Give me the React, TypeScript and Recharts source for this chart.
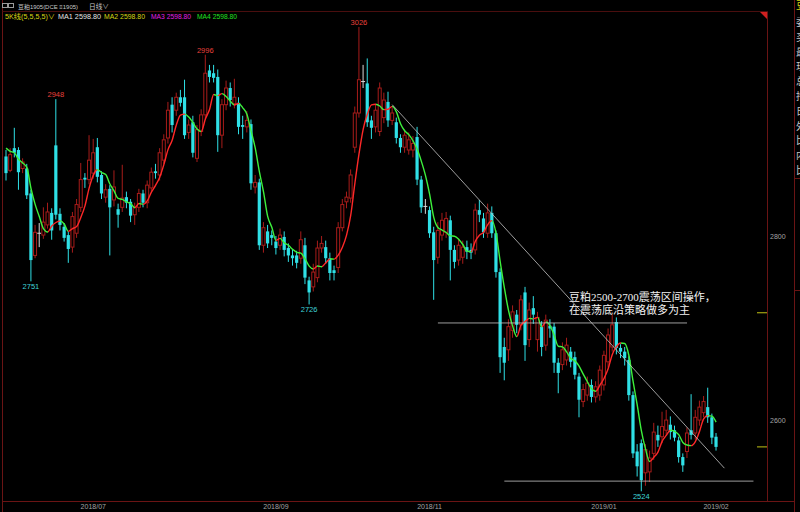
import { Bar, ComposedChart, Line, XAxis, YAxis } from "recharts"

// 豆粕1905 daily bars, DCE
const OPEN = [
  2886, 2871, 2895, 2893, 2873, 2873, 2846, 2779, 2803, 2801,
  2812, 2825, 2898, 2824, 2810, 2801, 2788, 2803, 2831, 2863,
  2861, 2868, 2896, 2866, 2842, 2851, 2839, 2829, 2831, 2842,
  2837, 2823, 2831, 2846, 2836, 2852, 2870, 2866, 2882, 2906,
  2942, 2936, 2950, 2950, 2912, 2923, 2884, 2913, 2931, 2979,
  2976, 2972, 2909, 2942, 2960, 2943, 2944, 2920, 2918, 2921,
  2853, 2858, 2790, 2805, 2801, 2794, 2790, 2799, 2787, 2779,
  2779, 2776, 2790, 2752, 2745, 2755, 2787, 2788, 2776, 2763,
  2766, 2809, 2837, 2841, 2896, 2933, 2967, 2965, 2925, 2918,
  2913, 2928, 2945, 2925, 2923, 2906, 2896, 2893, 2893, 2907,
  2861, 2832, 2828, 2804, 2777, 2801, 2804, 2817, 2785, 2774,
  2777, 2788, 2785, 2785, 2828, 2819, 2803, 2825, 2803, 2761,
  2680, 2677, 2698, 2715, 2704, 2739, 2688, 2722, 2688, 2702,
  2682, 2703, 2702, 2663, 2661, 2666, 2675, 2669, 2648, 2621,
  2628, 2639, 2626, 2628, 2639, 2664, 2680, 2707, 2679, 2675,
  2666, 2628, 2567, 2576, 2544, 2545, 2565, 2585, 2583, 2590,
  2596, 2590, 2579, 2561, 2567, 2590, 2587, 2601, 2609, 2615,
  2604, 2583,
]
const HIGH = [
  2893, 2895, 2917, 2896, 2884, 2878, 2850, 2812, 2814, 2831,
  2836, 2830, 2948, 2830, 2814, 2805, 2826, 2840, 2879, 2868,
  2909, 2905, 2906, 2870, 2856, 2855, 2871, 2835, 2877, 2848,
  2840, 2836, 2851, 2850, 2860, 2874, 2878, 2895, 2910, 2945,
  2950, 2955, 2958, 2969, 2926, 2930, 2920, 2937, 2996, 2985,
  2985, 2980, 2948, 2968, 2966, 2970, 2950, 2930, 2935, 2926,
  2866, 2862, 2815, 2812, 2806, 2800, 2808, 2805, 2792, 2786,
  2784, 2805, 2798, 2756, 2770, 2795, 2800, 2795, 2782, 2768,
  2815, 2840, 2848, 2872, 2940, 3026, 2985, 2992, 2930, 2942,
  2966, 2955, 2956, 2940, 2928, 2910, 2915, 2912, 2908, 2918,
  2865, 2840, 2832, 2810, 2815, 2825, 2826, 2822, 2790, 2797,
  2795, 2795, 2792, 2835, 2839, 2825, 2835, 2832, 2806, 2765,
  2690, 2710, 2725, 2720, 2736, 2745, 2728, 2735, 2718, 2708,
  2715, 2710, 2706, 2668, 2685, 2690, 2680, 2675, 2652, 2640,
  2648, 2645, 2643, 2660, 2676, 2700, 2715, 2712, 2683, 2680,
  2670, 2632, 2575, 2580, 2575, 2568, 2598, 2595, 2610, 2612,
  2605, 2595, 2583, 2565, 2593, 2629, 2612, 2622, 2627, 2636,
  2608, 2587,
]
const LOW = [
  2860, 2869, 2885, 2850, 2868, 2840, 2751, 2776, 2788, 2797,
  2808, 2796, 2818, 2806, 2794, 2771, 2782, 2798, 2826, 2852,
  2856, 2862, 2858, 2840, 2836, 2779, 2832, 2809, 2826, 2830,
  2815, 2812, 2826, 2831, 2830, 2848, 2862, 2860, 2878, 2900,
  2912, 2930, 2940, 2905, 2905, 2885, 2880, 2908, 2926, 2966,
  2966, 2891, 2895, 2936, 2940, 2938, 2910, 2905, 2912, 2850,
  2846, 2785, 2782, 2787, 2790, 2780, 2785, 2778, 2772, 2768,
  2765, 2770, 2748, 2726, 2740, 2750, 2782, 2770, 2752, 2752,
  2760, 2805, 2830, 2836, 2890, 2928, 2960, 2918, 2905, 2912,
  2908, 2922, 2918, 2920, 2900, 2890, 2890, 2888, 2885, 2855,
  2825, 2824, 2798, 2731, 2770, 2795, 2798, 2752, 2765, 2768,
  2770, 2775, 2775, 2780, 2815, 2798, 2798, 2798, 2755, 2652,
  2644, 2665, 2690, 2695, 2698, 2665, 2680, 2705, 2675, 2670,
  2676, 2690, 2652, 2630, 2655, 2660, 2658, 2645, 2604, 2615,
  2622, 2620, 2620, 2622, 2633, 2658, 2675, 2672, 2668, 2660,
  2622, 2560, 2540, 2524, 2530, 2534, 2558, 2572, 2576, 2585,
  2580, 2578, 2555, 2545, 2560, 2580, 2580, 2595, 2604, 2598,
  2575, 2568,
]
const CLOSE = [
  2868, 2888, 2890, 2869, 2880, 2844, 2774, 2804, 2803, 2815,
  2826, 2806, 2823, 2812, 2798, 2786, 2821, 2834, 2861, 2861,
  2882, 2890, 2864, 2846, 2850, 2831, 2853, 2823, 2841, 2836,
  2822, 2831, 2846, 2836, 2855, 2869, 2868, 2890, 2904, 2936,
  2920, 2950, 2944, 2909, 2920, 2890, 2915, 2931, 2976, 2972,
  2971, 2909, 2942, 2960, 2947, 2950, 2918, 2918, 2925, 2857,
  2858, 2790, 2809, 2792, 2798, 2787, 2801, 2785, 2779, 2776,
  2771, 2796, 2755, 2739, 2761, 2787, 2792, 2776, 2760, 2760,
  2809, 2834, 2842, 2866, 2933, 2969, 2967, 2923, 2917, 2936,
  2960, 2947, 2925, 2933, 2906, 2896, 2909, 2904, 2900, 2861,
  2831, 2832, 2803, 2774, 2806, 2817, 2819, 2785, 2772, 2790,
  2788, 2783, 2782, 2828, 2823, 2804, 2825, 2803, 2761, 2669,
  2663, 2702, 2718, 2704, 2731, 2682, 2720, 2715, 2712, 2680,
  2709, 2700, 2663, 2652, 2677, 2682, 2664, 2650, 2623, 2634,
  2641, 2626, 2637, 2655, 2671, 2693, 2704, 2679, 2675, 2668,
  2628, 2565, 2551, 2536, 2569, 2560, 2588, 2579, 2594, 2601,
  2588, 2582, 2561, 2552, 2587, 2585, 2604, 2615, 2621, 2604,
  2582, 2572,
]
// closes before the first visible bar, only used to seed the average
const SEED_CLOSE = [2905, 2898, 2904, 2900]

const MA_PERIOD = 5
const EMPTY_SLOTS = 12

const MONTH_TICKS = [21, 65, 102, 144, 171]
const MONTH_LABELS = ["2018/07", "2018/09", "2018/11", "2019/01", "2019/02"]

const PRICE_TICKS = [2600, 2800]
const PRICE_DOMAIN: [number, number] = [2513.5, 3042.2]
const PREV_SETTLE = 2717

const PEAK_BARS = [12, 48, 85]
const TROUGH_BARS = [6, 73, 153]

// hand-drawn lines: [bar index, price]
const TREND_LINE = [[93, 2942], [173, 2549]]
const RANGE_TOP = [[104, 2706], [164, 2706]]
const RANGE_BOTTOM = [[120, 2535], [180, 2535]]

const NOTE = ["豆粕2500-2700震荡区间操作，", "在震荡底沿策略做多为主"]
const SIDE_GLYPHS = ["委", "买", "最", "现", "总", "持", "日", "外", "比", "内", "比"]

const UP = "#a81c1a"
const DOWN = "#2fe0e6"
const FLAT = "#d8d8d8"
const MA_UP = "#ff2828"
const MA_DOWN = "#3cf03c"
const FRAME = "#6a1414"
const GUIDE = "#c4c4c4"
const AXIS_TEXT = "#a4a4a4"
const FONT = "'Liberation Sans', 'Noto Sans CJK SC', sans-serif"

const seeded = [...SEED_CLOSE, ...CLOSE]
const ma = CLOSE.map((_, i) => {
  const end = i + SEED_CLOSE.length + 1
  const win = seeded.slice(end - MA_PERIOD, end)
  return win.reduce((s, v) => s + v, 0) / win.length
})
const maLast = ma[ma.length - 1].toFixed(2)

const trendAt = new Map(TREND_LINE.map(([i, v]) => [i, v]))
const topAt = new Map(RANGE_TOP.map(([i, v]) => [i, v]))
const bottomAt = new Map(RANGE_BOTTOM.map(([i, v]) => [i, v]))

const rows = Array.from({ length: CLOSE.length + EMPTY_SLOTS }, (_, i) => ({
  i,
  open: OPEN[i],
  high: HIGH[i],
  low: LOW[i],
  close: CLOSE[i],
  ma: ma[i],
  peak: PEAK_BARS.includes(i),
  trough: TROUGH_BARS.includes(i),
  trend: trendAt.get(i),
  rangeTop: topAt.get(i),
  rangeBottom: bottomAt.get(i),
}))

// red while the average rises, green while it falls
const maStops: { off: number; color: string }[] = []
for (let k = 0; k < ma.length - 1; k++) {
  const color = ma[k + 1] >= ma[k] ? MA_UP : MA_DOWN
  const n = ma.length - 1
  maStops.push({ off: k / n, color }, { off: (k + 1) / n, color })
}

function Candle(props: any) {
  const { x, y, width, height, payload } = props
  if (!payload || payload.close == null) return null
  const { open, close, high, low } = payload
  const k = high > low ? height / (high - low) : 0
  const cx = x + width / 2
  const py = (v: number) => y + (high - v) * k
  const top = py(Math.max(open, close))
  const bottom = py(Math.min(open, close))
  const bodyH = Math.max(bottom - top, 1)
  let mark = null
  if (payload.peak) {
    mark = (
      <text x={cx} y={y - 2} textAnchor="middle" fontSize={7.5} fill="#e8413c" fontFamily={FONT}>
        {high}
      </text>
    )
  } else if (payload.trough) {
    mark = (
      <text x={cx} y={y + height + 8} textAnchor="middle" fontSize={7.5} fill="#3fd4d8" fontFamily={FONT}>
        {low}
      </text>
    )
  }
  if (close === open) {
    return (
      <g>
        <line x1={cx} x2={cx} y1={y} y2={y + height} stroke={FLAT} strokeWidth={1} />
        <line x1={cx - 2} x2={cx + 2} y1={top} y2={top} stroke={FLAT} strokeWidth={1} />
        {mark}
      </g>
    )
  }
  if (close > open) {
    return (
      <g>
        <line x1={cx} x2={cx} y1={y} y2={top} stroke={UP} strokeWidth={1} />
        <line x1={cx} x2={cx} y1={top + bodyH} y2={y + height} stroke={UP} strokeWidth={1} />
        <rect x={cx - 1.5} y={top} width={3} height={bodyH} fill="#000" stroke={UP} strokeWidth={1} />
        {mark}
      </g>
    )
  }
  return (
    <g>
      <line x1={cx} x2={cx} y1={y} y2={y + height} stroke={DOWN} strokeWidth={1} />
      <rect x={cx - 1.6} y={top} width={3.2} height={bodyH} fill={DOWN} />
      {mark}
    </g>
  )
}

function MonthTick({ x, y, payload }: any) {
  const k = MONTH_TICKS.indexOf(payload.value)
  if (k < 0) return null
  return (
    <text x={x} y={y + 8} textAnchor="middle" fontSize={7} fill={AXIS_TEXT} fontFamily={FONT}>
      {MONTH_LABELS[k]}
    </text>
  )
}

function PriceTick({ x, y, payload }: any) {
  if (PRICE_TICKS.includes(payload.value)) {
    return (
      <text x={x + 2} y={y + 2.5} fontSize={7} fill={AXIS_TEXT} fontFamily={FONT}>
        {payload.value}
      </text>
    )
  }
  return <line x1={x - 11} x2={x} y1={y} y2={y} stroke="#c2c214" strokeWidth={1} />
}

function Overlay() {
  return (
    <svg width={800} height={512} style={{ position: "absolute", left: 0, top: 0, pointerEvents: "none" }}>
      {/* frame */}
      <line x1={2.5} x2={2.5} y1={0} y2={512} stroke={FRAME} />
      <line x1={2.5} x2={767.5} y1={11.5} y2={11.5} stroke="#4a0e0e" />
      <line x1={767.5} x2={767.5} y1={11.5} y2={501.5} stroke={FRAME} />
      <line x1={2.5} x2={794.5} y1={501.5} y2={501.5} stroke={FRAME} />
      <line x1={794.5} x2={794.5} y1={0} y2={512} stroke={FRAME} />
      <polygon points="760,12 767,12 767,19" fill="#d02020" />
      <line x1={794.5} x2={800} y1={178.5} y2={178.5} stroke={FRAME} />
      <line x1={794.5} x2={800} y1={290.5} y2={290.5} stroke={FRAME} />

      {/* title rows */}
      <rect x={2.5} y={3.5} width={5} height={4} fill="none" stroke="#9a9a9a" />
      <rect x={8.5} y={3.5} width={5} height={4} fill="none" stroke="#9a9a9a" />
      <text x={18} y={9} fontSize={6} fill="#c8c8c8" fontFamily={FONT} textLength={60} lengthAdjust="spacingAndGlyphs">
        豆粕1905(DCE ≡1905)
      </text>
      <text x={89} y={9} fontSize={6.5} fill="#c8c8c8" fontFamily={FONT} textLength={20} lengthAdjust="spacingAndGlyphs">
        日线∨
      </text>
      <text x={5} y={19} fontSize={7} fill="#d6d614" fontFamily={FONT} textLength={50} lengthAdjust="spacingAndGlyphs">
        5K线(5,5,5,5)∨
      </text>
      <text x={58} y={19} fontSize={7} fill="#e4e4e4" fontFamily={FONT} textLength={43} lengthAdjust="spacingAndGlyphs">
        MA1 {maLast}
      </text>
      <text x={104} y={19} fontSize={6.8} fill="#d6d614" fontFamily={FONT} textLength={41} lengthAdjust="spacingAndGlyphs">
        MA2 {maLast}
      </text>
      <text x={151} y={19} fontSize={6.8} fill="#e020e0" fontFamily={FONT} textLength={40} lengthAdjust="spacingAndGlyphs">
        MA3 {maLast}
      </text>
      <text x={197} y={19} fontSize={6.8} fill="#20e020" fontFamily={FONT} textLength={40} lengthAdjust="spacingAndGlyphs">
        MA4 {maLast}
      </text>

      {/* note */}
      {NOTE.map((t, k) => (
        <text
          key={t}
          x={569}
          y={301 + k * 13}
          fontSize={11}
          fill="#f2f2f2"
          fontFamily="'Liberation Serif', 'Noto Sans CJK SC', serif"
        >
          {t}
        </text>
      ))}

      {/* quote panel edge */}
      <text x={796} y={9} fontSize={10} fill="#d6d614" fontFamily={FONT}>
        豆
      </text>
      {SIDE_GLYPHS.map((g, k) => (
        <text key={k} x={796} y={26 + k * 14.8} fontSize={10} fill="#c8c8c8" fontFamily={FONT}>
          {g}
        </text>
      ))}
    </svg>
  )
}

export default function App() {
  const lastClose = CLOSE[CLOSE.length - 1]
  return (
    <div style={{ position: "fixed", left: 0, top: 0, width: 800, height: 512, background: "#000" }}>
      <ComposedChart
        width={800}
        height={512}
        data={rows}
        margin={{ top: 12, right: 0, bottom: 0, left: 4 }}
        barCategoryGap={0}
        barGap={0}
      >
        <defs>
          <linearGradient id="maStroke" x1="0" y1="0" x2="1" y2="0">
            {maStops.map((s, k) => (
              <stop key={k} offset={s.off} stopColor={s.color} />
            ))}
          </linearGradient>
        </defs>
        <XAxis
          dataKey="i"
          type="category"
          height={11}
          ticks={MONTH_TICKS}
          interval={0}
          tickSize={0}
          tickMargin={0}
          axisLine={false}
          tickLine={false}
          tick={<MonthTick />}
        />
        <YAxis
          orientation="right"
          width={32}
          type="number"
          domain={PRICE_DOMAIN}
          allowDataOverflow
          ticks={[...PRICE_TICKS, lastClose, PREV_SETTLE]}
          interval={0}
          tickSize={0}
          tickMargin={0}
          axisLine={false}
          tickLine={false}
          tick={<PriceTick />}
        />
        <Bar
          dataKey={(d: any) => (d.close == null ? null : [d.low, d.high])}
          shape={<Candle />}
          isAnimationActive={false}
        />
        <Line
          dataKey="ma"
          type="monotone"
          stroke="url(#maStroke)"
          strokeWidth={1.4}
          dot={false}
          isAnimationActive={false}
        />
        <Line dataKey="trend" type="linear" stroke={GUIDE} strokeWidth={0.8} dot={false} connectNulls isAnimationActive={false} />
        <Line dataKey="rangeTop" type="linear" stroke={GUIDE} strokeWidth={0.8} dot={false} connectNulls isAnimationActive={false} />
        <Line dataKey="rangeBottom" type="linear" stroke={GUIDE} strokeWidth={0.8} dot={false} connectNulls isAnimationActive={false} />
      </ComposedChart>
      <Overlay />
    </div>
  )
}
